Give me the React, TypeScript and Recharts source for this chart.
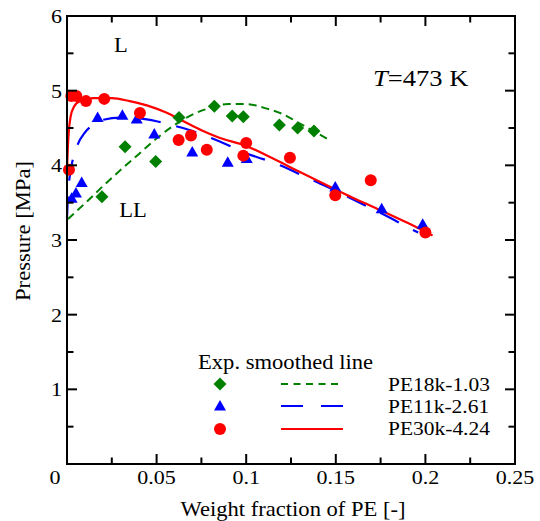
import {
  ComposedChart,
  Line,
  Scatter,
  XAxis,
  YAxis,
} from "recharts";

const xTicks = [0, 0.025, 0.05, 0.075, 0.1, 0.125, 0.15, 0.175, 0.2, 0.225, 0.25];
const yTicks = [0, 0.5, 1, 1.5, 2, 2.5, 3, 3.5, 4, 4.5, 5, 5.5, 6];

// experimental points
const pe18kExpX = [0.0195, 0.0324, 0.0495, 0.0625, 0.0822, 0.0922, 0.0984, 0.1185, 0.1287, 0.1378];
const pe18kExpY = [3.58, 4.25, 4.05, 4.64, 4.79, 4.66, 4.65, 4.54, 4.5, 4.46];

const pe11kExpX = [0.0026, 0.005, 0.0082, 0.0171, 0.0309, 0.0389, 0.0487, 0.0699, 0.0897, 0.1003, 0.1497, 0.1756, 0.1985];
const pe11kExpY = [3.56, 3.63, 3.77, 4.64, 4.67, 4.62, 4.42, 4.18, 4.04, 4.09, 3.71, 3.42, 3.21];

const pe30kExpX = [0.0011, 0.0024, 0.0052, 0.0106, 0.0208, 0.0407, 0.0623, 0.0692, 0.078, 0.0984, 0.1, 0.1244, 0.1497, 0.1695, 0.2];
const pe30kExpY = [3.94, 4.93, 4.93, 4.86, 4.89, 4.7, 4.34, 4.4, 4.21, 4.13, 4.3, 4.1, 3.6, 3.8, 3.1];

// smoothed lines
const pe18kLineX = [0.0005, 0.01, 0.02, 0.03, 0.04, 0.05, 0.06, 0.07, 0.08, 0.09, 0.1, 0.11, 0.12, 0.13, 0.1455];
const pe18kLineY = [3.28, 3.49, 3.72, 3.94, 4.15, 4.36, 4.54, 4.68, 4.77, 4.82, 4.82, 4.77, 4.69, 4.56, 4.35];

const pe11kLineX = [0, 0.0005, 0.0015, 0.003, 0.006, 0.01, 0.015, 0.02, 0.03, 0.04, 0.05, 0.06, 0.07, 0.08, 0.09, 0.1, 0.11, 0.12, 0.13, 0.14, 0.15, 0.16, 0.17, 0.18, 0.19, 0.196];
const pe11kLineY = [3.3, 3.6, 3.85, 4.05, 4.28, 4.44, 4.55, 4.61, 4.64, 4.63, 4.59, 4.53, 4.46, 4.37, 4.27, 4.16, 4.08, 3.99, 3.88, 3.77, 3.66, 3.54, 3.42, 3.3, 3.17, 3.1];

const pe30kLineX = [0, 0.0005, 0.001, 0.002, 0.004, 0.008, 0.015, 0.025, 0.035, 0.045, 0.055, 0.065, 0.075, 0.085, 0.1, 0.115, 0.13, 0.147, 0.16, 0.173, 0.19, 0.204];
const pe30kLineY = [3.95, 4.25, 4.45, 4.65, 4.79, 4.87, 4.9, 4.9, 4.86, 4.8, 4.71, 4.59, 4.47, 4.37, 4.26, 4.09, 3.91, 3.71, 3.56, 3.42, 3.23, 3.06];

const zip = (xs: number[], ys: number[]) => xs.map((x, i) => ({ x, y: ys[i] }));

const GREEN = "#008000";
const BLUE = "#0000ff";
const RED = "#ff0000";
const FONT = "Liberation Serif";
const SX = 1.13; // the original figure's lettering is a little wider than tall

const PLOT_W = 448;
const PLOT_H = 448;

// text stretched horizontally around its anchor point
const Txt = ({ x, y, size, anchor = "start", dy, rotate = 0, children }: any) => (
  <text
    transform={`translate(${x} ${y}) rotate(${rotate}) scale(${SX} 1)`}
    x={0}
    y={0}
    dy={dy}
    textAnchor={anchor}
    fontSize={size}
    style={{ fontFamily: FONT, fill: "#000" }}
  >
    {children}
  </text>
);

const XTick = (props: any) => {
  const { x, y, payload } = props;
  const v = payload.value as number;
  const major = Math.abs(v * 20 - Math.round(v * 20)) < 1e-6;
  const len = major ? 10 : 6.5;
  return (
    <g>
      {v === 0 && (
        <rect x={x} y={y - PLOT_H} width={PLOT_W} height={PLOT_H} fill="none" stroke="#000" strokeWidth={2} />
      )}
      <line x1={x} y1={y} x2={x} y2={y - len} stroke="#000" strokeWidth={2} />
      <line x1={x} y1={y - PLOT_H} x2={x} y2={y - PLOT_H + len} stroke="#000" strokeWidth={2} />
      {major && (
        <Txt x={v === 0 ? x - 12 : x} y={y + 20} anchor="middle" size={19.5}>
          {String(v)}
        </Txt>
      )}
    </g>
  );
};

const YTick = (props: any) => {
  const { x, y, payload } = props;
  const v = payload.value as number;
  const major = Number.isInteger(v);
  const len = major ? 10 : 6.5;
  return (
    <g>
      <line x1={x} y1={y} x2={x + len} y2={y} stroke="#000" strokeWidth={2} />
      <line x1={x + PLOT_W} y1={y} x2={x + PLOT_W - len} y2={y} stroke="#000" strokeWidth={2} />
      {major && v !== 0 && (
        <Txt x={x - 5} y={y + 7} anchor="end" size={19.5}>
          {String(v)}
        </Txt>
      )}
    </g>
  );
};

const Diamond = ({ cx, cy }: any) => (
  <path d={`M${cx},${cy - 6.5}L${cx + 6.5},${cy}L${cx},${cy + 6.5}L${cx - 6.5},${cy}Z`} fill={GREEN} />
);
const Triangle = ({ cx, cy }: any) => (
  <path d={`M${cx},${cy - 6}L${cx + 6},${cy + 4.5}L${cx - 6},${cy + 4.5}Z`} fill={BLUE} />
);
const Dot = ({ cx, cy }: any) => <circle cx={cx} cy={cy} r={6} fill={RED} />;

export default function App() {
  return (
    <div style={{ position: "absolute", left: 0, top: 0, width: 540, height: 521, background: "#fff" }}>
      <ComposedChart width={540} height={521} margin={{ top: 16, right: 25, bottom: 7, left: 7 }}>
        <XAxis
          type="number"
          dataKey="x"
          domain={[0, 0.25]}
          ticks={xTicks}
          interval={0}
          height={50}
          axisLine={false}
          tickLine={false}
          tickSize={0}
          tickMargin={0}
          tick={<XTick />}
        />
        <YAxis
          type="number"
          dataKey="y"
          domain={[0, 6]}
          ticks={yTicks}
          interval={0}
          width={60}
          axisLine={false}
          tickLine={false}
          tickSize={0}
          tickMargin={0}
          tick={<YTick />}
        />
        <Line data={zip(pe18kLineX, pe18kLineY)} dataKey="y" type="monotone" stroke={GREEN} strokeWidth={2} strokeDasharray="8 5" dot={false} activeDot={false} isAnimationActive={false} />
        <Line data={zip(pe11kLineX, pe11kLineY)} dataKey="y" type="monotone" stroke={BLUE} strokeWidth={2.2} strokeDasharray="21 16" dot={false} activeDot={false} isAnimationActive={false} />
        <Line data={zip(pe30kLineX, pe30kLineY)} dataKey="y" type="monotone" stroke={RED} strokeWidth={2.2} dot={false} activeDot={false} isAnimationActive={false} />
        <Scatter data={zip(pe18kExpX, pe18kExpY)} shape={<Diamond />} isAnimationActive={false} />
        <Scatter data={zip(pe11kExpX, pe11kExpY)} shape={<Triangle />} isAnimationActive={false} />
        <Scatter data={zip(pe30kExpX, pe30kExpY)} shape={<Dot />} isAnimationActive={false} />
      </ComposedChart>

      <svg width={540} height={521} style={{ position: "absolute", left: 0, top: 0, pointerEvents: "none" }}>
        <Txt x={30} y={231} rotate={-90} anchor="middle" size={20}>
          Pressure [MPa]
        </Txt>
        <Txt x={293} y={516} anchor="middle" size={20}>
          Weight fraction of PE [-]
        </Txt>
        <Txt x={121} y={52} anchor="middle" size={20}>L</Txt>
        <Txt x={133} y={217} anchor="middle" size={20}>LL</Txt>
        <Txt x={373} y={86} size={23.5}>
          <tspan fontStyle="italic">T</tspan>=473 K
        </Txt>

        <Txt x={198} y={369} size={20}>Exp. smoothed line</Txt>
        <Diamond cx={220} cy={384} />
        <Triangle cx={220} cy={406} />
        <Dot cx={220} cy={429} />
        <line x1={281} y1={384} x2={343} y2={384} stroke={GREEN} strokeWidth={2} strokeDasharray="7 5.5" />
        <line x1={281} y1={406} x2={343} y2={406} stroke={BLUE} strokeWidth={2.2} strokeDasharray="22 18" />
        <line x1={281} y1={429} x2={343} y2={429} stroke={RED} strokeWidth={2.2} />
        <Txt x={388} y={391} size={19}>PE18k-1.03</Txt>
        <Txt x={388} y={413} size={19}>PE11k-2.61</Txt>
        <Txt x={388} y={435} size={19}>PE30k-4.24</Txt>
      </svg>
    </div>
  );
}
